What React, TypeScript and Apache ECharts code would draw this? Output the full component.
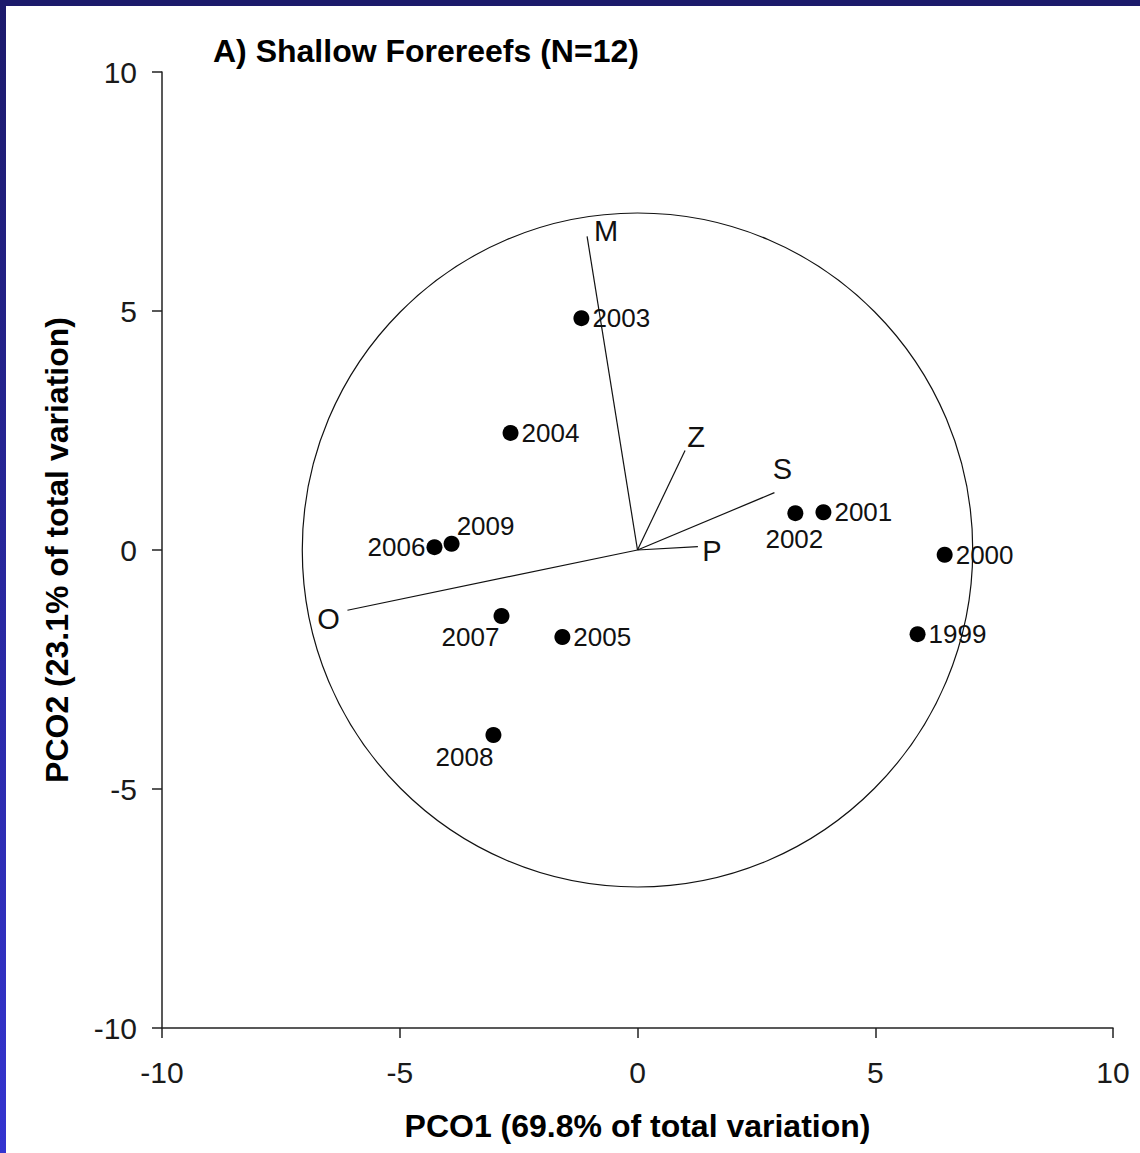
import React, { useEffect, useRef } from "react";
import * as echarts from "echarts";

// Sample scores (years) on PCO1 / PCO2
const years = ["1999", "2000", "2001", "2002", "2003", "2004", "2005", "2006", "2007", "2008", "2009"];
const pco1 = [5.89, 6.46, 3.91, 3.32, -1.18, -2.67, -1.58, -4.27, -2.86, -3.03, -3.91];
const pco2 = [-1.76, -0.1, 0.79, 0.77, 4.85, 2.45, -1.82, 0.06, -1.38, -3.87, 0.13];

// Vector overlay (variables)
const vectorNames = ["M", "Z", "S", "P", "O"];
const vectorX = [-1.06, 1.0, 2.88, 1.27, -6.1];
const vectorY = [6.56, 2.08, 1.2, 0.07, -1.26];

// Unit circle of vector overlay (radius in axis units)
const circleRadius = 7.05;

// Axis ticks
const axisMin = -10;
const axisMax = 10;
const axisStep = 5;

const FONT = "Arial, 'Liberation Sans', Helvetica, sans-serif";

// label placement styles (not data)
const yearLabelStyle: Record<string, any> = {
  "2006": { position: "left", distance: 1 },
  "2009": { position: "inside", offset: [34, -18] },
  "2007": { position: "inside", offset: [-31, 21] },
  "2002": { position: "inside", offset: [-1, 26] },
  "2008": { position: "inside", offset: [-29, 22] },
};
const vectorLabelOffset: Record<string, [number, number]> = {
  M: [19, -5],
  Z: [11, -14],
  S: [8, -24],
  P: [14, 4],
  O: [-19, 9],
};

export default function App() {
  const ref = useRef<HTMLDivElement>(null);

  useEffect(() => {
    if (!ref.current) return;
    const chart = echarts.init(ref.current, undefined, { renderer: "svg" });

    const scatterData = years.map((y, i) => {
      const st = yearLabelStyle[y] || { position: "right", distance: 3 };
      return {
        name: y,
        value: [pco1[i], pco2[i]],
        label: {
          show: true,
          formatter: y,
          position: st.position,
          distance: st.distance ?? 0,
          offset: st.offset ?? [0, 0],
        },
      };
    });

    const vectorData = vectorNames.map((n, i) => [vectorX[i], vectorY[i], n]);

    const axisCommon = {
      type: "value",
      min: axisMin,
      max: axisMax,
      interval: axisStep,
      splitLine: { show: false },
      axisLine: { show: true, onZero: false, lineStyle: { color: "#222", width: 1.5 } },
      axisTick: { show: true, inside: false, length: 10, lineStyle: { color: "#222", width: 1.5 } },
      nameLocation: "middle",
      nameTextStyle: { fontFamily: FONT, fontSize: 32, fontWeight: "bold", color: "#000" },
    };

    chart.setOption({
      animation: false,
      backgroundColor: "#ffffff",
      title: {
        text: "A) Shallow Forereefs (N=12)",
        left: 213,
        top: 35,
        padding: 0,
        textStyle: { fontFamily: FONT, fontSize: 32, fontWeight: "bold", color: "#000" },
      },
      grid: { left: 162, right: 27, top: 72, bottom: 125, containLabel: false },
      xAxis: {
        ...axisCommon,
        name: "PCO1 (69.8% of total variation)",
        nameGap: 82,
        axisLabel: { fontFamily: FONT, fontSize: 30, color: "#1a1a1a", margin: 29 },
      },
      yAxis: {
        ...axisCommon,
        name: "PCO2 (23.1% of total variation)",
        nameGap: 89,
        axisLabel: { fontFamily: FONT, fontSize: 30, color: "#1a1a1a", margin: 25 },
      },
      graphic: [
        {
          type: "rect",
          z: 100,
          shape: { x: 0, y: 0, width: 1140, height: 6 },
          style: { fill: "#1c1a6b" },
        },
        {
          type: "rect",
          z: 100,
          shape: { x: 0, y: 0, width: 6, height: 1153 },
          style: {
            fill: new echarts.graphic.LinearGradient(0, 0, 0, 1, [
              { offset: 0, color: "#1c1a6b" },
              { offset: 1, color: "#3434d0" },
            ]),
          },
        },
      ],
      series: [
        {
          type: "custom",
          name: "circle",
          silent: true,
          encode: { x: 0, y: 1 },
          data: [[0, 0, circleRadius]],
          renderItem: (params: any, api: any) => {
            const c = api.coord([api.value(0), api.value(1)]);
            const s = api.size([api.value(2), api.value(2)]);
            return {
              type: "ellipse",
              shape: { cx: c[0], cy: c[1], rx: s[0], ry: s[1] },
              style: { fill: "none", stroke: "#111", lineWidth: 1.2 },
            };
          },
        },
        {
          type: "custom",
          name: "vectors",
          silent: true,
          encode: { x: 0, y: 1 },
          data: vectorData,
          renderItem: (params: any, api: any) => {
            const o = api.coord([0, 0]);
            const e = api.coord([api.value(0), api.value(1)]);
            const n = vectorNames[params.dataIndex];
            const off = vectorLabelOffset[n] || [0, 0];
            return {
              type: "group",
              children: [
                {
                  type: "line",
                  shape: { x1: o[0], y1: o[1], x2: e[0], y2: e[1] },
                  style: { stroke: "#111", lineWidth: 1.2 },
                },
                {
                  type: "text",
                  x: e[0] + off[0],
                  y: e[1] + off[1],
                  style: {
                    text: n,
                    fontFamily: FONT,
                    fontSize: 29,
                    fill: "#111",
                    align: "center",
                    verticalAlign: "middle",
                  },
                },
              ],
            };
          },
        },
        {
          type: "scatter",
          name: "years",
          symbol: "circle",
          symbolSize: 16,
          itemStyle: { color: "#000", opacity: 1 },
          label: {
            show: true,
            fontFamily: FONT,
            fontSize: 26,
            color: "#111",
          },
          data: scatterData,
          z: 5,
        },
      ],
    });

    return () => chart.dispose();
  }, []);

  return (
    <div
      ref={ref}
      style={{ position: "fixed", left: 0, top: 0, width: 1140, height: 1153 }}
    />
  );
}
